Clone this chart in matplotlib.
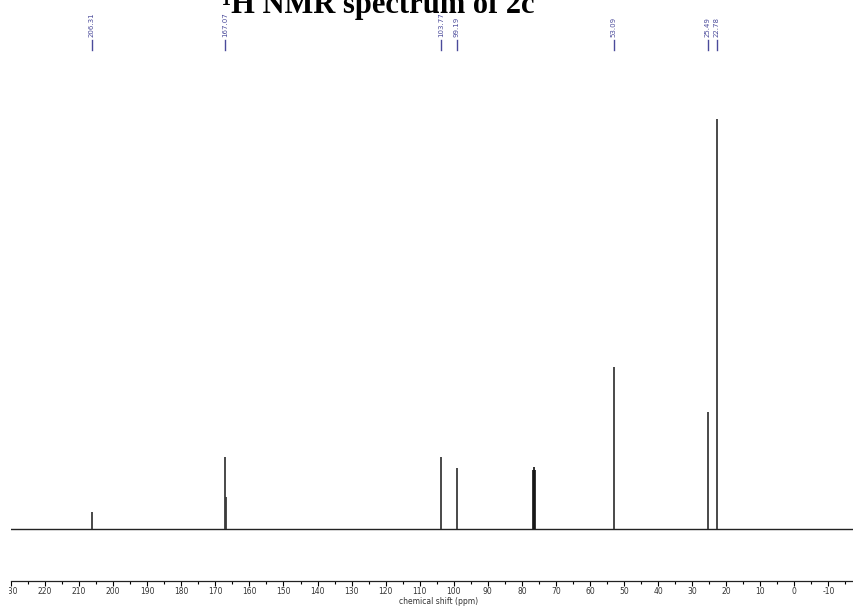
import numpy as np
import matplotlib.pyplot as plt
from matplotlib.patches import Rectangle
from matplotlib.transforms import blended_transform_factory

plt.rcParams['axes.unicode_minus'] = False

# peak list (ppm) and relative heights
shifts = [206.31, 167.07, 166.90, 103.77, 99.19, 53.09, 25.49, 22.78]
heights = [4.1, 17.6, 7.8, 17.6, 14.9, 39.5, 28.5, 100.0]

# solvent triplet (CDCl3)
solv_shifts = [76.82, 76.50, 76.18]
solv_heights = [14.5, 15.1, 14.5]

labels = ["206.31", "167.07", "103.77", "99.19", "53.09", "25.49", "22.78"]
label_pos = [206.31, 167.07, 103.77, 99.19, 53.09, 25.49, 22.78]

W, H = 854, 607
fig = plt.figure(figsize=(W/100, H/100), dpi=100)
ax = fig.add_axes([11/W, 26/H, 843/W, (581-60)/H])

ax.axhline(0, color='#222222', lw=1.0, zorder=1)
ax.vlines(shifts, 0, heights, color='#3a3a3a', lw=1.3, zorder=2)
ax.vlines(solv_shifts, 0, solv_heights, color='#111111', lw=1.2, zorder=2)

ax.set_xlim(230, -17.5)
ax.set_ylim(-52/410*100, (529-60)/410*100)

for s in ['left', 'right', 'top']:
    ax.spines[s].set_visible(False)
ax.spines['bottom'].set_color('#222222')
ax.spines['bottom'].set_linewidth(0.9)
ax.set_yticks([])
ax.set_xticks(np.arange(230, -11, -10))
ax.set_xticks(np.arange(225, -16, -5), minor=True)
ax.tick_params(axis='x', which='major', length=3.5, width=0.8, labelsize=5.5,
               labelcolor='#333333', pad=1)
ax.tick_params(axis='x', which='minor', length=2.5, width=0.8)
ax.set_xlabel("chemical shift (ppm)", fontsize=5.5, color='#333333')
ax.xaxis.set_label_coords((439-11)/843, -0.030)

tr = blended_transform_factory(ax.transData, fig.transFigure)
for lab, p in zip(labels, label_pos):
    ax.text(p, 1-37/H, lab, rotation=90, ha='center', va='bottom', fontsize=5,
            color='#4a4a9a', transform=tr, clip_on=False)
    ax.plot([p, p], [1-40/H, 1-50/H], color='#4a4a9a', lw=1.0, transform=tr,
            clip_on=False)

fig.text(378/W, 1-13/H, "\u00b9H NMR spectrum of 2c", ha='center', va='baseline',
         fontsize=22, fontweight='bold', family='Liberation Serif')

# the source image is cropped on the left edge
fig.patches.append(Rectangle((0, 0), 9/W, 1, transform=fig.transFigure,
                             facecolor='white', edgecolor='none', zorder=10))

fig.savefig("out.png", dpi=100)
